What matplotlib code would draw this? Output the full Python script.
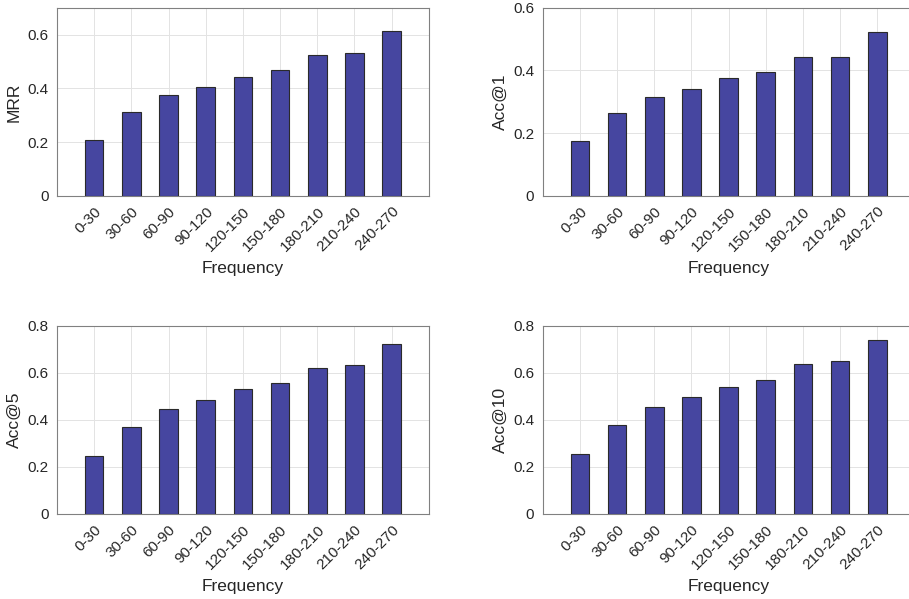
import numpy as np
import matplotlib.pyplot as plt

plt.rcParams['font.family'] = ['Liberation Sans', 'DejaVu Sans']

# Frequency bins
bins = ['0-30', '30-60', '60-90', '90-120', '120-150',
        '150-180', '180-210', '210-240', '240-270']

# metric values per bin
mrr = [0.208, 0.311, 0.376, 0.406, 0.444, 0.467, 0.525, 0.532, 0.615]
acc1 = [0.175, 0.263, 0.315, 0.342, 0.376, 0.395, 0.443, 0.443, 0.523]
acc5 = [0.247, 0.369, 0.447, 0.485, 0.530, 0.557, 0.621, 0.635, 0.723]
acc10 = [0.254, 0.377, 0.454, 0.496, 0.541, 0.569, 0.638, 0.651, 0.740]

panels = [
    (mrr, 'MRR', 0.7, [0.0627, 0.673]),
    (acc1, 'Acc@1', 0.6, [0.597, 0.673]),
    (acc5, 'Acc@5', 0.8, [0.0627, 0.142]),
    (acc10, 'Acc@10', 0.8, [0.597, 0.142]),
]

fig = plt.figure(figsize=(9.09, 5.99), dpi=100)
x = np.arange(1, len(bins) + 1)

for vals, name, ymax, (l, b) in panels:
    ax = fig.add_axes([l, b, 0.409, 0.314])
    ax.bar(x, vals, width=0.5, color='#4646a0', edgecolor='#2a2a2a', linewidth=0.8, zorder=3)
    ax.set_xlim(0, 10)
    ax.set_ylim(0, ymax)
    yt = np.arange(0, ymax + 0.001, 0.2)
    ax.set_yticks(yt)
    ax.set_yticklabels(['0' if v == 0 else f'{v:.1f}' for v in yt])
    ax.set_xticks(x)
    ax.set_xticklabels(bins, rotation=45, ha='right', rotation_mode='anchor')
    ax.grid(True, color='#e3e3e3', linewidth=0.7, zorder=0)
    ax.tick_params(labelsize=11, colors='#262626', length=0, pad=6)
    for s in ax.spines.values():
        s.set_color('#808080')
        s.set_linewidth(0.8)
    ax.set_xlabel('Frequency', fontsize=12.5, color='#262626', labelpad=5)
    ax.set_ylabel(name, fontsize=12.5, color='#262626')

fig.savefig('out.png', dpi=100)
